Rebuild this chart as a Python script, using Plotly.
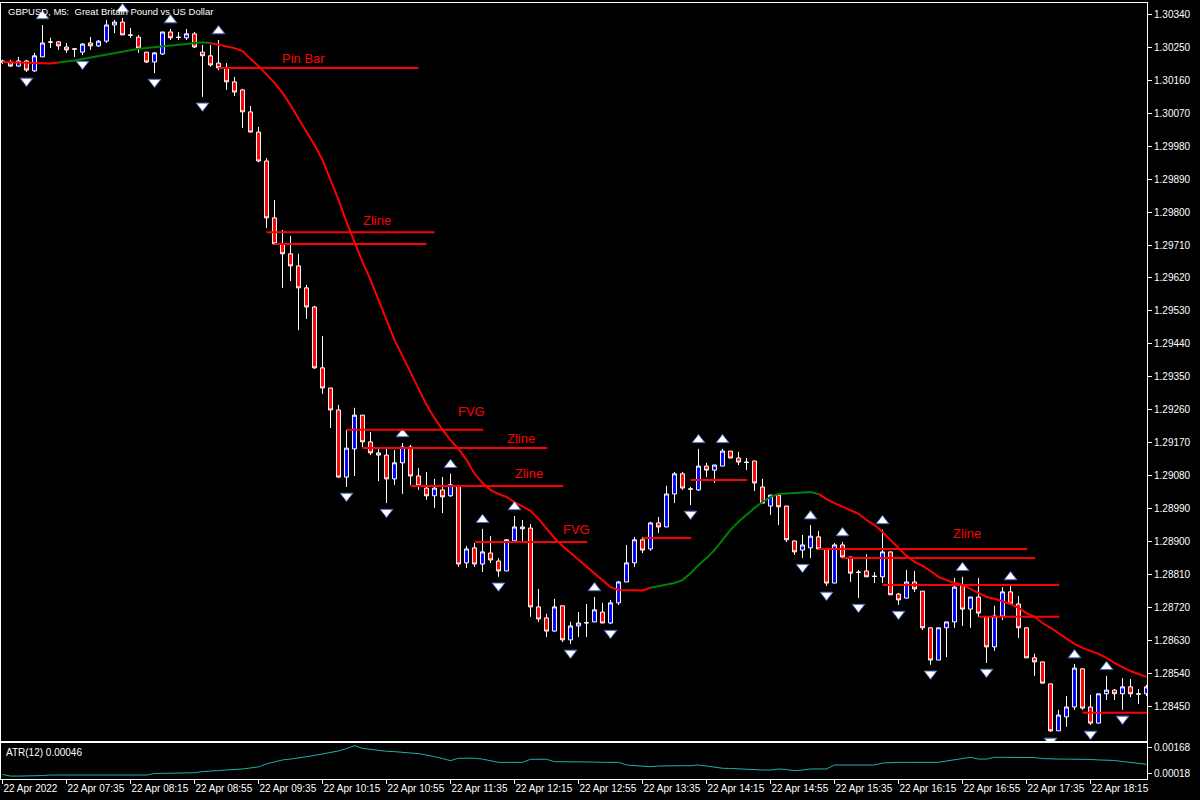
import plotly.graph_objects as go

# ---------------- data ----------------
tick_labels = ["22 Apr 2022", "22 Apr 07:35", "22 Apr 08:15", "22 Apr 08:55", "22 Apr 09:35",
               "22 Apr 10:15", "22 Apr 10:55", "22 Apr 11:35", "22 Apr 12:15", "22 Apr 12:55",
               "22 Apr 13:35", "22 Apr 14:15", "22 Apr 14:55", "22 Apr 15:35", "22 Apr 16:15",
               "22 Apr 16:55", "22 Apr 17:35", "22 Apr 18:15"]
tick_bars = [0, 8, 16, 24, 32, 40, 48, 56, 64, 72, 80, 88, 96, 104, 112, 120, 128, 136]

price_ticks = [1.30340, 1.30250, 1.30160, 1.30070, 1.29980, 1.29890, 1.29800, 1.29710, 1.29620,
               1.29530, 1.29440, 1.29350, 1.29260, 1.29170, 1.29080, 1.28990, 1.28900, 1.28810,
               1.28720, 1.28630, 1.28540, 1.28450]
atr_ticks = [0.00168, 0.00018]

opens = [1.30212, 1.30209, 1.30198, 1.30212, 1.30185, 1.30223, 1.30264, 1.30264, 1.30250, 1.30245,
         1.30236, 1.30261, 1.30253, 1.30266, 1.30310, 1.30318, 1.30283, 1.30277, 1.30236, 1.30209,
         1.30231, 1.30291, 1.30277, 1.30275, 1.30286, 1.30236, 1.30226, 1.30206, 1.30193, 1.30155,
         1.30133, 1.30073, 1.30018, 1.29939, 1.29784, 1.29713, 1.29686, 1.29653, 1.29593, 1.29541,
         1.29375, 1.29320, 1.29260, 1.29077, 1.29154, 1.29246, 1.29173, 1.29143, 1.29137, 1.29072,
         1.29116, 1.29159, 1.29080, 1.29047, 1.29026, 1.29042, 1.29026, 1.29053, 1.28843, 1.28884,
         1.28840, 1.28870, 1.28848, 1.28821, 1.28903, 1.28941, 1.28938, 1.28723, 1.28693, 1.28657,
         1.28726, 1.28633, 1.28671, 1.28679, 1.28682, 1.28709, 1.28679, 1.28734, 1.28791, 1.28843,
         1.28906, 1.28881, 1.28952, 1.28941, 1.29031, 1.29086, 1.29045, 1.29042, 1.29107, 1.29096,
         1.29107, 1.29148, 1.29129, 1.29118, 1.29121, 1.29050, 1.28998, 1.29028, 1.28998, 1.28903,
         1.28878, 1.28884, 1.28914, 1.28881, 1.28788, 1.28892, 1.28859, 1.28818, 1.28821, 1.28807,
         1.28805, 1.28873, 1.28758, 1.28747, 1.28791, 1.28766, 1.28666, 1.28578, 1.28666, 1.28682,
         1.28783, 1.28717, 1.28750, 1.28696, 1.28614, 1.28698, 1.28764, 1.28731, 1.28666, 1.28584,
         1.28573, 1.28513, 1.28385, 1.28423, 1.28450, 1.28554, 1.28450, 1.28406, 1.28486, 1.28496,
         1.28486, 1.28505, 1.28486, 1.28486]
highs = [1.30215, 1.30215, 1.30223, 1.30215, 1.30234, 1.30310, 1.30275, 1.30266, 1.30261, 1.30247,
         1.30261, 1.30277, 1.30269, 1.30324, 1.30324, 1.30329, 1.30302, 1.30283, 1.30236, 1.30236,
         1.30291, 1.30299, 1.30291, 1.30299, 1.30291, 1.30256, 1.30256, 1.30269, 1.30206, 1.30168,
         1.30136, 1.30089, 1.30032, 1.29947, 1.29833, 1.29751, 1.29735, 1.29686, 1.29601, 1.29544,
         1.29462, 1.29320, 1.29274, 1.29206, 1.29266, 1.29246, 1.29200, 1.29156, 1.29156, 1.29151,
         1.29170, 1.29165, 1.29102, 1.29091, 1.29072, 1.29077, 1.29086, 1.29053, 1.28889, 1.28897,
         1.28936, 1.28916, 1.28856, 1.28908, 1.28971, 1.28960, 1.28949, 1.28772, 1.28704, 1.28745,
         1.28726, 1.28682, 1.28709, 1.28731, 1.28750, 1.28734, 1.28742, 1.28794, 1.28892, 1.28914,
         1.28914, 1.28955, 1.28968, 1.29053, 1.29091, 1.29091, 1.29050, 1.29154, 1.29116, 1.29110,
         1.29154, 1.29148, 1.29146, 1.29129, 1.29121, 1.29072, 1.29028, 1.29028, 1.28998, 1.28903,
         1.28919, 1.28946, 1.28930, 1.28881, 1.28897, 1.28900, 1.28859, 1.28824, 1.28867, 1.28818,
         1.28933, 1.28873, 1.28761, 1.28824, 1.28821, 1.28766, 1.28666, 1.28666, 1.28682, 1.28802,
         1.28805, 1.28750, 1.28802, 1.28696, 1.28726, 1.28777, 1.28780, 1.28753, 1.28666, 1.28595,
         1.28573, 1.28513, 1.28442, 1.28480, 1.28567, 1.28554, 1.28483, 1.28486, 1.28535, 1.28499,
         1.28529, 1.28526, 1.28499, 1.28510]
lows = [1.30204, 1.30196, 1.30196, 1.30182, 1.30182, 1.30223, 1.30247, 1.30242, 1.30234, 1.30223,
        1.30228, 1.30242, 1.30250, 1.30261, 1.30288, 1.30283, 1.30275, 1.30234, 1.30206, 1.30179,
        1.30228, 1.30269, 1.30269, 1.30269, 1.30247, 1.30114, 1.30196, 1.30187, 1.30133, 1.30116,
        1.30029, 1.30018, 1.29936, 1.29756, 1.29713, 1.29593, 1.29612, 1.29478, 1.29508, 1.29372,
        1.29304, 1.29211, 1.29075, 1.29050, 1.29080, 1.29159, 1.29137, 1.29066, 1.29006, 1.29056,
        1.29031, 1.29056, 1.29042, 1.29015, 1.28993, 1.28979, 1.29023, 1.28832, 1.28829, 1.28832,
        1.28818, 1.28843, 1.28805, 1.28821, 1.28903, 1.28903, 1.28696, 1.28682, 1.28641, 1.28655,
        1.28627, 1.28622, 1.28641, 1.28641, 1.28682, 1.28679, 1.28676, 1.28728, 1.28791, 1.28832,
        1.28870, 1.28876, 1.28925, 1.28941, 1.29006, 1.29042, 1.29001, 1.29039, 1.29077, 1.29061,
        1.29107, 1.29129, 1.29110, 1.29096, 1.29039, 1.29006, 1.28974, 1.28946, 1.28900, 1.28865,
        1.28856, 1.28856, 1.28881, 1.28780, 1.28788, 1.28856, 1.28791, 1.28747, 1.28805, 1.28788,
        1.28788, 1.28756, 1.28728, 1.28745, 1.28764, 1.28660, 1.28565, 1.28578, 1.28586, 1.28666,
        1.28671, 1.28666, 1.28696, 1.28570, 1.28603, 1.28687, 1.28731, 1.28638, 1.28584, 1.28535,
        1.28515, 1.28382, 1.28385, 1.28396, 1.28442, 1.28442, 1.28401, 1.28406, 1.28469, 1.28469,
        1.28442, 1.28477, 1.28458, 1.28480]
closes = [1.30209, 1.30198, 1.30212, 1.30187, 1.30226, 1.30261, 1.30263, 1.30253, 1.30242, 1.30244,
          1.30258, 1.30253, 1.30266, 1.30310, 1.30318, 1.30283, 1.30282, 1.30247, 1.30209, 1.30234,
          1.30291, 1.30275, 1.30276, 1.30286, 1.30250, 1.30226, 1.30201, 1.30193, 1.30155, 1.30127,
          1.30073, 1.30018, 1.29939, 1.29784, 1.29713, 1.29686, 1.29653, 1.29593, 1.29541, 1.29375,
          1.29320, 1.29260, 1.29077, 1.29156, 1.29246, 1.29173, 1.29143, 1.29137, 1.29072, 1.29116,
          1.29159, 1.29080, 1.29053, 1.29026, 1.29047, 1.29023, 1.29056, 1.28840, 1.28881, 1.28840,
          1.28873, 1.28851, 1.28821, 1.28906, 1.28941, 1.28936, 1.28723, 1.28690, 1.28657, 1.28723,
          1.28633, 1.28671, 1.28679, 1.28680, 1.28715, 1.28679, 1.28734, 1.28791, 1.28843, 1.28906,
          1.28878, 1.28952, 1.28941, 1.29031, 1.29086, 1.29047, 1.29044, 1.29107, 1.29096, 1.29110,
          1.29148, 1.29129, 1.29118, 1.29117, 1.29061, 1.29006, 1.29028, 1.28996, 1.28906, 1.28873,
          1.28892, 1.28916, 1.28881, 1.28788, 1.28892, 1.28859, 1.28815, 1.28817, 1.28805, 1.28806,
          1.28873, 1.28756, 1.28742, 1.28791, 1.28772, 1.28666, 1.28578, 1.28666, 1.28682, 1.28777,
          1.28717, 1.28750, 1.28706, 1.28614, 1.28698, 1.28764, 1.28731, 1.28666, 1.28584, 1.28573,
          1.28515, 1.28385, 1.28428, 1.28450, 1.28556, 1.28447, 1.28406, 1.28486, 1.28496, 1.28486,
          1.28505, 1.28486, 1.28485, 1.28505]

ma_values = [1.30209, 1.30208, 1.30207, 1.30206, 1.30206, 1.30205, 1.30205,
             1.30208, 1.30210, 1.30213, 1.30217, 1.30221, 1.30225, 1.30230, 1.30234, 1.30238, 1.30242,
             1.30245, 1.30247, 1.30249, 1.30250, 1.30252, 1.30255, 1.30258, 1.30261, 1.30263,
             1.30261, 1.30257, 1.30253, 1.30247, 1.30239, 1.30217, 1.30198, 1.30176, 1.30152, 1.30125,
             1.30092, 1.30054, 1.30018, 1.29983, 1.29942, 1.29890, 1.29833, 1.29773, 1.29716, 1.29664,
             1.29615, 1.29560, 1.29506, 1.29451, 1.29407, 1.29364, 1.29317, 1.29274, 1.29238, 1.29206,
             1.29178, 1.29154, 1.29124, 1.29086, 1.29061, 1.29042, 1.29031, 1.29023, 1.29009, 1.28996,
             1.28985, 1.28963, 1.28936, 1.28911, 1.28889, 1.28870, 1.28851, 1.28832, 1.28815, 1.28796,
             1.28777,
             1.28769, 1.28768, 1.28768, 1.28768,
             1.28775, 1.28780, 1.28783, 1.28788, 1.28796, 1.28815, 1.28837, 1.28856, 1.28878, 1.28906,
             1.28933, 1.28955, 1.28974, 1.28993, 1.29009, 1.29023, 1.29031, 1.29032, 1.29034, 1.29035,
             1.29036,
             1.29031, 1.29017, 1.29006, 1.28996, 1.28985, 1.28977, 1.28960, 1.28946, 1.28927, 1.28906,
             1.28884, 1.28862, 1.28846, 1.28835, 1.28821, 1.28805, 1.28796, 1.28788, 1.28783, 1.28772,
             1.28761, 1.28750, 1.28745, 1.28739, 1.28731, 1.28720, 1.28706, 1.28696, 1.28679, 1.28666,
             1.28652, 1.28636, 1.28622, 1.28611, 1.28603, 1.28595, 1.28584, 1.28570, 1.28559, 1.28548,
             1.28540, 1.28532]

atr_values = [0.00011, 0.00002, 0.00002, 0.00002, 0.00002, 0.00005, 0.00008, 0.00008, 0.00008, 0.00008,
              0.00011, 0.00011, 0.00012, 0.00012, 0.00012, 0.00012, 0.00012, 0.00008, 0.00008, 0.00017,
              0.00018, 0.00018, 0.00020, 0.00020, 0.00021, 0.00028, 0.00033, 0.00034, 0.00037, 0.00039,
              0.00043, 0.00049, 0.00055, 0.00072, 0.00083, 0.00095, 0.00100, 0.00109, 0.00114, 0.00121,
              0.00129, 0.00138, 0.00147, 0.00161, 0.00177, 0.00162, 0.00155, 0.00148, 0.00145, 0.00143,
              0.00141, 0.00135, 0.00132, 0.00124, 0.00114, 0.00103, 0.00091, 0.00105, 0.00105, 0.00105,
              0.00100, 0.00092, 0.00081, 0.00081, 0.00081, 0.00081, 0.00099, 0.00099, 0.00099, 0.00085,
              0.00085, 0.00085, 0.00087, 0.00086, 0.00083, 0.00081, 0.00081, 0.00081, 0.00066, 0.00063,
              0.00060, 0.00056, 0.00060, 0.00062, 0.00062, 0.00062, 0.00062, 0.00066, 0.00060, 0.00052,
              0.00047, 0.00046, 0.00043, 0.00043, 0.00040, 0.00037, 0.00037, 0.00043, 0.00040, 0.00033,
              0.00037, 0.00043, 0.00043, 0.00043, 0.00066, 0.00066, 0.00066, 0.00066, 0.00066, 0.00066,
              0.00077, 0.00081, 0.00081, 0.00081, 0.00081, 0.00081, 0.00081, 0.00081, 0.00089, 0.00098,
              0.00103, 0.00110, 0.00100, 0.00100, 0.00110, 0.00110, 0.00110, 0.00110, 0.00110, 0.00109,
              0.00103, 0.00100, 0.00100, 0.00100, 0.00100, 0.00098, 0.00098, 0.00095, 0.00095, 0.00092,
              0.00086, 0.00081, 0.00077, 0.00070]

up_fractal_bars = [5, 15, 21, 27, 50, 56, 60, 64, 74, 87, 90, 101, 105, 110, 120, 126, 134, 138]
down_fractal_bars = [3, 10, 19, 25, 43, 48, 62, 71, 76, 86, 100, 103, 107, 112, 116, 123, 131, 136, 140]

level_prices = [1.30193, 1.29745, 1.29713, 1.29206, 1.29156, 1.29053, 1.28900, 1.28911, 1.29069,
                1.28881, 1.28856, 1.28783, 1.28696, 1.28434]
level_start = [27, 33, 34, 43, 45, 51, 59.1, 80, 86, 102, 105, 110, 122.1, 135]
level_end = [52, 54, 53, 60.1, 68.1, 70.1, 73.1, 86.1, 93.1, 128.1, 129.1, 132.1, 132.1, 143.6]

label_texts = ["Pin Bar", "Zline", "FVG", "Zline", "Zline", "FVG", "Zline"]
label_bars = [37.6, 46.75, 58.6, 64.75, 65.75, 71.75, 120.6]
label_prices = [1.30220, 1.29776, 1.29255, 1.29181, 1.29086, 1.28933, 1.28922]

# ---------------- figure ----------------
FONT = "Liberation Sans"
n = len(opens)
bars = list(range(n))
fig = go.Figure()

fig.add_trace(go.Candlestick(
    x=bars, open=opens, high=highs, low=lows, close=closes,
    increasing=dict(fillcolor="#0000ff", line=dict(color="#ffffff", width=1)),
    decreasing=dict(fillcolor="#ff0000", line=dict(color="#ffffff", width=1)),
    whiskerwidth=0, hoverinfo="skip", xaxis="x", yaxis="y"))

# colour-switching moving average (green rising, red falling)
def ma_color(i):
    if i == 0:
        return "red"
    return "green" if ma_values[i] > ma_values[i - 1] else "red"

col_map = {"red": "#ff0000", "green": "#008000"}
seg_x, seg_y = [0], [ma_values[0]]
cur = ma_color(0)
for i in range(1, n):
    c = ma_color(i)
    if c != cur:
        fig.add_trace(go.Scatter(x=seg_x + [i], y=seg_y + [ma_values[i]], mode="lines",
                                 line=dict(color=col_map[cur], width=2), hoverinfo="skip",
                                 xaxis="x", yaxis="y"))
        seg_x, seg_y = [i], [ma_values[i]]
        cur = c
    else:
        seg_x.append(i)
        seg_y.append(ma_values[i])
fig.add_trace(go.Scatter(x=seg_x, y=seg_y, mode="lines", line=dict(color=col_map[cur], width=2),
                         hoverinfo="skip", xaxis="x", yaxis="y"))

# level lines
for p, s, e in zip(level_prices, level_start, level_end):
    fig.add_shape(type="line", xref="x", yref="y", x0=s, x1=e, y0=p, y1=p,
                  line=dict(color="#ff0000", width=2))
for t, b, p in zip(label_texts, label_bars, label_prices):
    fig.add_annotation(x=b, y=p, xref="x", yref="y", text=t, showarrow=False,
                       font=dict(color="#ff0000", size=13, family=FONT))

# fractal arrows
off = 0.000245
fig.add_trace(go.Scatter(x=up_fractal_bars, y=[highs[i] + off for i in up_fractal_bars], mode="markers",
                         marker=dict(symbol="triangle-up", size=11, color="#ffffff",
                                     line=dict(color="#4a68b8", width=1)),
                         hoverinfo="skip", xaxis="x", yaxis="y"))
fig.add_trace(go.Scatter(x=down_fractal_bars, y=[lows[i] - off for i in down_fractal_bars], mode="markers",
                         marker=dict(symbol="triangle-down", size=11, color="#ffffff",
                                     line=dict(color="#4a68b8", width=1)),
                         hoverinfo="skip", xaxis="x", yaxis="y"))

# ATR
fig.add_trace(go.Scatter(x=bars, y=atr_values, mode="lines", line=dict(color="#20b2aa", width=1),
                         hoverinfo="skip", xaxis="x2", yaxis="y2"))

fig.add_annotation(xref="paper", yref="paper", x=0.004, y=1, yshift=-1, xanchor="left", yanchor="top",
                   text="GBPUSD, M5:  Great Britain Pound vs US Dollar", showarrow=False,
                   font=dict(color="#ffffff", size=9.5, family=FONT))
fig.add_annotation(xref="paper", yref="y2 domain", x=0.003, y=1, yshift=-2, xanchor="left", yanchor="top",
                   text="ATR(12) 0.00046", showarrow=False,
                   font=dict(color="#ffffff", size=10, family=FONT))

xr = [-0.1875, 143.0625]
axis_common = dict(showgrid=False, zeroline=False, showline=True, mirror=True,
                   linecolor="#ffffff", linewidth=1, automargin=False)
tickfont = dict(color="#ffffff", size=10, family=FONT)

fig.update_layout(
    width=1200, height=800,
    margin=dict(l=1, r=53, t=3, b=21, autoexpand=False),
    paper_bgcolor="#000000", plot_bgcolor="#000000",
    showlegend=False,
    xaxis=dict(domain=[0, 1], range=xr, anchor="y", showticklabels=False, ticks="",
               rangeslider=dict(visible=False), **axis_common),
    yaxis=dict(domain=[0.049, 1], range=[1.283573, 1.30370], side="right", anchor="x",
               tickvals=price_ticks, ticktext=[f"{v:.5f}" for v in price_ticks],
               ticks="outside", ticklen=4, tickcolor="#ffffff", tickfont=tickfont, **axis_common),
    xaxis2=dict(domain=[0, 1], range=xr, anchor="y2", matches="x", tickangle=0,
                tickvals=tick_bars, ticktext=tick_labels, ticks="outside", ticklen=4,
                tickcolor="#ffffff", ticklabelposition="outside right", tickfont=tickfont,
                **axis_common),
    yaxis2=dict(domain=[0, 0.0464], range=[-0.000149, 0.001928], side="right", anchor="x2",
                tickvals=atr_ticks, ticktext=[f"{v:.5f}" for v in atr_ticks],
                ticks="outside", ticklen=4, tickcolor="#ffffff", tickfont=tickfont, **axis_common),
)

fig.write_html("out.html", config={"displayModeBar": False, "staticPlot": True},
               post_script="document.body.style.margin='0';document.body.style.background='#000';")
